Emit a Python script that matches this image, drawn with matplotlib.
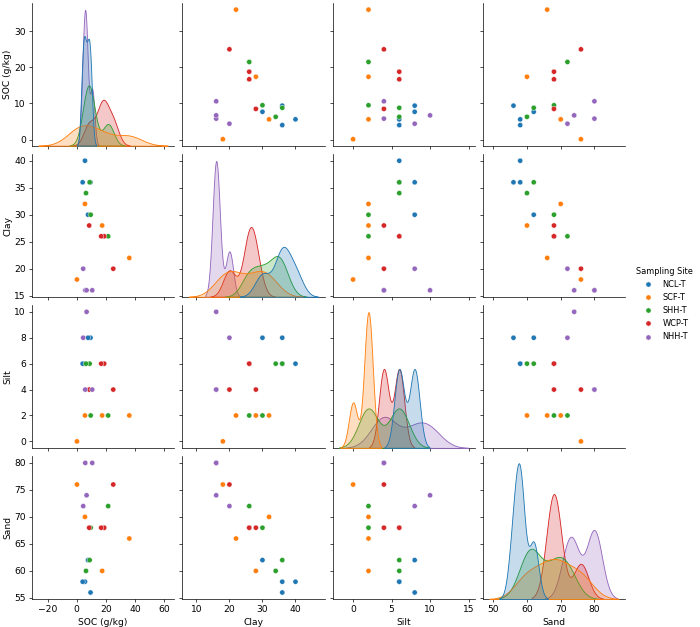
import matplotlib
matplotlib.use('Agg')
import matplotlib.pyplot as plt
import pandas as pd
import seaborn as sns

# values (checked against the diagonal densities)
site = ['NCL-T'] * 4 + ['SCF-T'] * 4 + ['SHH-T'] * 4 + ['WCP-T'] * 4 + ['NHH-T'] * 4
soc = [9.4, 7.7, 5.6, 4.0,
       36.0, 17.4, 5.6, 0.1,
       21.5, 9.5, 8.8, 6.3,
       25.0, 18.8, 16.7, 8.5,
       10.6, 5.8, 6.7, 4.4]
clay = [36, 30, 40, 36,
        22, 28, 32, 18,
        26, 30, 36, 34,
        20, 26, 26, 28,
        16, 16, 16, 20]
silt = [8, 8, 6, 6,
        2, 2, 2, 0,
        2, 2, 6, 6,
        4, 6, 6, 4,
        4, 4, 10, 8]
sand = [56, 62, 58, 58,
        66, 60, 70, 76,
        72, 68, 62, 60,
        76, 68, 68, 68,
        80, 80, 74, 72]

df = pd.DataFrame({'SOC (g/kg)': soc, 'Clay': clay, 'Silt': silt,
                   'Sand': sand, 'Sampling Site': site})

plt.rcParams.update({'font.size': 10.5, 'xtick.labelsize': 10.5,
                     'ytick.labelsize': 10.5, 'axes.labelsize': 10.5,
                     'legend.fontsize': 9.5, 'legend.title_fontsize': 9.5})

g = sns.pairplot(df, hue='Sampling Site', height=2.5,
                 diag_kws=dict(bw_adjust=0.73))

dpi = 62.7
g.fig.set_size_inches(700 / dpi, 627 / dpi)
g.fig.subplots_adjust(left=0.0457, right=0.893, bottom=0.0447, top=0.995,
                      wspace=0.056, hspace=0.06)
for ax in g.axes[:, 0]:
    ax.yaxis.labelpad = 2
g._legend.set_bbox_to_anchor((1.0, 0.515), transform=g.fig.transFigure)

g.fig.savefig('out.png', dpi=dpi)
